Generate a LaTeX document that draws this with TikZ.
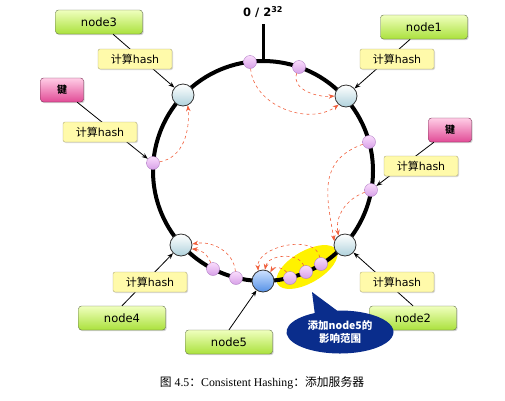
\documentclass[tikz,border=0pt]{standalone}
\usepackage{fontspec}
\setmainfont{DejaVu Sans}
\newfontfamily\cjk{Noto Sans CJK SC}
\newfontfamily\capfont{Liberation Serif}
\usetikzlibrary{arrows.meta,shadows,shapes.callouts}

\begin{document}
\begin{tikzpicture}[x=1pt, y=1pt, >={Stealth[length=6pt,width=4.5pt]},
  serverbox/.style={draw={rgb,255:red,95;green,110;blue,70}, rounded corners=3pt, top color={rgb,255:red,240;green,255;blue,190}, bottom color={rgb,255:red,170;green,225;blue,60}, minimum width=87pt, minimum height=24pt, font=\fontsize{11.5}{13}\selectfont, drop shadow={shadow xshift=1.2pt, shadow yshift=-1.2pt, opacity=.35}},
  keybox/.style={draw={rgb,255:red,120;green,40;blue,80}, rounded corners=3pt, top color={rgb,255:red,255;green,205;blue,230}, bottom color={rgb,255:red,225;green,75;blue,150}, minimum width=43pt, minimum height=24pt, font=\cjk\bfseries\fontsize{10}{12}\selectfont, drop shadow={shadow xshift=1.2pt, shadow yshift=-1.2pt, opacity=.35}},
  hashbox/.style={draw={rgb,255:red,175;green,170;blue,120}, fill={rgb,255:red,255;green,250;blue,170}, rounded corners=2pt, minimum width=74pt, minimum height=20pt, inner sep=1pt, font=\fontsize{11}{13}\selectfont, drop shadow={shadow xshift=1pt, shadow yshift=-1pt, opacity=.3}},
  ringnode/.style={circle, draw=black!80, thick, minimum size=22pt, inner sep=0pt, top color=white, bottom color={rgb,255:red,175;green,210;blue,220}},
  newnode/.style={ringnode, top color={rgb,255:red,205;green,225;blue,255}, bottom color={rgb,255:red,85;green,145;blue,230}},
  objdot/.style={circle, draw={rgb,255:red,175;green,125;blue,195}, minimum size=13pt, inner sep=0pt, top color={rgb,255:red,250;green,220;blue,252}, bottom color={rgb,255:red,215;green,160;blue,232}},
  feed/.style={->, thick},
  movearrow/.style={->, dashed, line width=0.6pt, color={rgb,255:red,240;green,95;blue,60}}]

\useasboundingbox (0,0) rectangle (505,-400);

% area taken over by node5
\fill[yellow, rotate around={30:(307,-267)}] (307,-267) ellipse (34pt and 16pt);

% the hash ring
\draw[line width=4pt] (263,-171) circle (110pt);
\node[font=\bfseries\fontsize{11.5}{13}\selectfont, outer sep=3pt] (zero) at (263,-12) {0 / 2\textsuperscript{32}};
\coordinate (top) at (263,-61);
\draw[line width=3pt] (zero) -- (top);

% servers on the ring
\node[ringnode] (n3) at (183,-95) {};
\node[ringnode] (n1) at (346,-96) {};
\node[ringnode] (n2) at (345,-245) {};
\node[ringnode] (n4) at (181,-245) {};
\node[newnode] (n5) at (263,-281) {};

% objects on the ring
\node[objdot] (dA) at (250,-62) {};
\node[objdot] (dB) at (299,-67) {};
\node[objdot] (dC) at (369,-142) {};
\node[objdot] (dD) at (371,-190) {};
\node[objdot] (dE) at (321,-264) {};
\node[objdot] (dF) at (306,-272) {};
\node[objdot] (dG) at (290,-278) {};
\node[objdot] (dH) at (236,-278) {};
\node[objdot] (dI) at (213,-269) {};
\node[objdot] (dJ) at (153,-163) {};

% boxes
\node[serverbox] (node3) at (99,-22) {node3};
\node[serverbox] (node1) at (424,-27) {node1};
\node[serverbox] (node2) at (413,-318) {node2};
\node[serverbox] (node4) at (122,-318) {node4};
\node[serverbox] (node5) at (229,-342) {node5};
\node[keybox] (keyL) at (62,-90) {键};
\node[keybox] (keyR) at (450,-130) {键};

\draw[feed] (node3) -- (n3);
\draw[feed] (node1) -- (n1);
\draw[feed] (keyL) -- (dJ);
\draw[feed] (keyR) -- (dD);
\draw[feed] (node2.north) -- (n2);
\draw[feed] (node4.north) -- (n4);
\draw[feed] (node5.north) -- (n5);

\node[hashbox] (h3) at (135,-59) {{\cjk 计算}hash};
\node[hashbox] (hL) at (100,-132) {{\cjk 计算}hash};
\node[hashbox] (h1) at (397,-59) {{\cjk 计算}hash};
\node[hashbox] (hR) at (421,-166) {{\cjk 计算}hash};
\node[hashbox] (h2) at (397,-282) {{\cjk 计算}hash};
\node[hashbox] (h4) at (150,-282) {{\cjk 计算}hash};

% objects move clockwise to the next server
\draw[movearrow] (dA) to[out=-85, in=215] (n1.230);
\draw[movearrow] (dB) to[out=-110, in=185] (n1.180);
\draw[movearrow] (dJ) to[out=10, in=-85] (n3.-65);
\draw[movearrow] (dC) to[out=200, in=100, looseness=1.2] (n2.160);
\draw[movearrow] (dD) to[out=200, in=100] (n2.125);
\draw[movearrow] (dE) to[out=100, in=95] (n5.115);
\draw[movearrow] (dF) to[out=110, in=80] (n5.80);
\draw[movearrow] (dG) to[out=120, in=60] (n5.50);
\draw[movearrow] (dH) to[out=95, in=10] (n4.5);
\draw[movearrow] (dI) to[out=110, in=-5] (n4.-20);

\node[ellipse callout, callout absolute pointer={(312,-292)}, callout pointer arc=25, fill={rgb,255:red,10;green,45;blue,140}, text=white, minimum width=107pt, minimum height=43pt, inner sep=0pt, align=center, font=\cjk\bfseries\fontsize{10.5}{13.5}\selectfont] (note) at (340,-332) {添加node5的\\影响范围};

\node[font=\capfont\fontsize{11.8}{14}\selectfont] (caption) at (262,-383) {{\cjk 图} 4.5{\cjk ：}Consistent Hashing{\cjk ：添加服务器}};

\end{tikzpicture}
\end{document}
